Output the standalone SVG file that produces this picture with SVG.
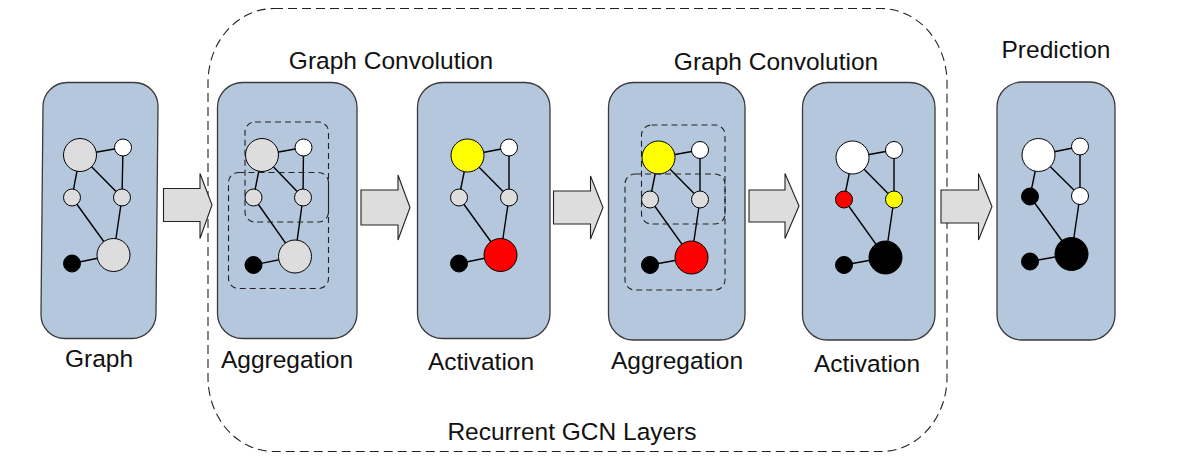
<svg xmlns="http://www.w3.org/2000/svg" width="1192" height="470" viewBox="0 0 1192 470">
<style>
.box{fill:#B4C7DC;stroke:#3a3a3a;stroke-width:1.3}
.e{stroke:#000;stroke-width:1.4}
.n{stroke:#000;stroke-width:1}
.g{fill:#DDDDDD}.w{fill:#FFFFFF}.b{fill:#000}.y{fill:#FFFF00}.r{fill:#FF0000}
.dash{fill:none;stroke:#222;stroke-width:1.1;stroke-dasharray:6 4}
.big{fill:none;stroke:#222;stroke-width:1.1;stroke-dasharray:9 5}
.arr{fill:#DDDDDD;stroke:#222;stroke-width:1.1}
text{font-family:"Liberation Sans",Arial,sans-serif;font-size:24.5px;fill:#111;text-anchor:middle}
</style>
<rect id="recurrent" class="big" x="208" y="8.5" width="739" height="443" rx="66" ry="74"/>
<g id="labels">
<text x="391" y="69">Graph Convolution</text>
<text x="776" y="70">Graph Convolution</text>
<text x="1056" y="58">Prediction</text>
<text x="99" y="367">Graph</text>
<text x="287" y="368">Aggregation</text>
<text x="481" y="370">Activation</text>
<text x="677" y="369">Aggregation</text>
<text x="867" y="372">Activation</text>
<text x="572" y="440">Recurrent GCN Layers</text>
</g>
<g id="graph">
<rect class="box" x="42" y="82.5" width="115" height="256" rx="24" transform="translate(99 210) skewX(-0.55) translate(-99 -210)"/>
<line class="e" x1="80" y1="155" x2="123" y2="147.5"/><line class="e" x1="80" y1="155" x2="72" y2="197.5"/><line class="e" x1="80" y1="155" x2="122" y2="197.5"/><line class="e" x1="123" y1="147.5" x2="122" y2="197.5"/><line class="e" x1="72" y1="197.5" x2="113.5" y2="255"/><line class="e" x1="122" y1="197.5" x2="113.5" y2="255"/><line class="e" x1="72" y1="263.5" x2="113.5" y2="255"/>
<circle class="n g" cx="80" cy="155" r="16.5"/><circle class="n w" cx="123" cy="147.5" r="8.5"/><circle class="n g" cx="72" cy="197.5" r="8.5"/><circle class="n g" cx="122" cy="197.5" r="8.5"/><circle class="n g" cx="113.5" cy="255" r="16.5"/><circle class="n b" cx="72" cy="263.5" r="8.5"/>
</g>
<g id="aggregation1">
<rect class="box" x="217.5" y="82.5" width="139.5" height="256" rx="25"/>
<line class="e" x1="262" y1="155" x2="303.5" y2="147.5"/><line class="e" x1="262" y1="155" x2="253.5" y2="197.5"/><line class="e" x1="262" y1="155" x2="303" y2="197.5"/><line class="e" x1="303.5" y1="147.5" x2="303" y2="197.5"/><line class="e" x1="253.5" y1="197.5" x2="295" y2="256.5"/><line class="e" x1="303" y1="197.5" x2="295" y2="256.5"/><line class="e" x1="253.5" y1="265" x2="295" y2="256.5"/>
<circle class="n g" cx="262" cy="155" r="16.5"/><circle class="n w" cx="303.5" cy="147.5" r="8.5"/><circle class="n g" cx="253.5" cy="197.5" r="8.5"/><circle class="n g" cx="303" cy="197.5" r="8.5"/><circle class="n g" cx="295" cy="256.5" r="16.5"/><circle class="n b" cx="253.5" cy="265" r="8.5"/>
<rect class="dash" x="245" y="122" width="83.5" height="100" rx="10"/>
<rect class="dash" x="228.5" y="172.5" width="100" height="116" rx="10"/>
</g>
<g id="activation1">
<rect class="box" x="417.5" y="82.5" width="132.5" height="256" rx="25"/>
<line class="e" x1="467.5" y1="155.5" x2="509" y2="147.5"/><line class="e" x1="467.5" y1="155.5" x2="459" y2="197.5"/><line class="e" x1="467.5" y1="155.5" x2="509" y2="197.5"/><line class="e" x1="509" y1="147.5" x2="509" y2="197.5"/><line class="e" x1="459" y1="197.5" x2="500.5" y2="255"/><line class="e" x1="509" y1="197.5" x2="500.5" y2="255"/><line class="e" x1="459" y1="263.5" x2="500.5" y2="255"/>
<circle class="n y" cx="467.5" cy="155.5" r="16.5"/><circle class="n w" cx="509" cy="147.5" r="8.5"/><circle class="n g" cx="459" cy="197.5" r="8.5"/><circle class="n g" cx="509" cy="197.5" r="8.5"/><circle class="n r" cx="500.5" cy="255" r="16.5"/><circle class="n b" cx="459" cy="263.5" r="8.5"/>
</g>
<g id="aggregation2">
<rect class="box" x="608.5" y="82.5" width="136.5" height="257.5" rx="25"/>
<line class="e" x1="658.5" y1="157.5" x2="700" y2="150"/><line class="e" x1="658.5" y1="157.5" x2="650" y2="199.5"/><line class="e" x1="658.5" y1="157.5" x2="700" y2="199.5"/><line class="e" x1="700" y1="150" x2="700" y2="199.5"/><line class="e" x1="650" y1="199.5" x2="691.5" y2="257.5"/><line class="e" x1="700" y1="199.5" x2="691.5" y2="257.5"/><line class="e" x1="650" y1="265" x2="691.5" y2="257.5"/>
<circle class="n y" cx="658.5" cy="157.5" r="16.5"/><circle class="n w" cx="700" cy="150" r="8.5"/><circle class="n g" cx="650" cy="199.5" r="8.5"/><circle class="n g" cx="700" cy="199.5" r="8.5"/><circle class="n r" cx="691.5" cy="257.5" r="16.5"/><circle class="n b" cx="650" cy="265" r="8.5"/>
<rect class="dash" x="641.5" y="125" width="83.5" height="99" rx="10"/>
<rect class="dash" x="625" y="174" width="100" height="116" rx="10"/>
</g>
<g id="activation2">
<rect class="box" x="802.5" y="82.5" width="132.5" height="257.5" rx="25"/>
<line class="e" x1="852.5" y1="157.5" x2="894" y2="150"/><line class="e" x1="852.5" y1="157.5" x2="844" y2="199.5"/><line class="e" x1="852.5" y1="157.5" x2="894" y2="199.5"/><line class="e" x1="894" y1="150" x2="894" y2="199.5"/><line class="e" x1="844" y1="199.5" x2="885.5" y2="257.5"/><line class="e" x1="894" y1="199.5" x2="885.5" y2="257.5"/><line class="e" x1="844" y1="265" x2="885.5" y2="257.5"/>
<circle class="n w" cx="852.5" cy="157.5" r="16.5"/><circle class="n w" cx="894" cy="150" r="8.5"/><circle class="n r" cx="844" cy="199.5" r="8.5"/><circle class="n y" cx="894" cy="199.5" r="8.5"/><circle class="n b" cx="885.5" cy="257.5" r="16.5"/><circle class="n b" cx="844" cy="265" r="8.5"/>
</g>
<g id="prediction">
<rect class="box" x="997" y="82" width="118" height="258" rx="25"/>
<line class="e" x1="1038.5" y1="155" x2="1080" y2="146.5"/><line class="e" x1="1038.5" y1="155" x2="1030" y2="196.5"/><line class="e" x1="1038.5" y1="155" x2="1080" y2="196"/><line class="e" x1="1080" y1="146.5" x2="1080" y2="196"/><line class="e" x1="1030" y1="196.5" x2="1071.5" y2="254"/><line class="e" x1="1080" y1="196" x2="1071.5" y2="254"/><line class="e" x1="1030" y1="261.5" x2="1071.5" y2="254"/>
<circle class="n w" cx="1038.5" cy="155" r="16.5"/><circle class="n w" cx="1080" cy="146.5" r="8.5"/><circle class="n b" cx="1030" cy="196.5" r="8.5"/><circle class="n w" cx="1080" cy="196" r="8.5"/><circle class="n b" cx="1071.5" cy="254" r="16.5"/><circle class="n b" cx="1030" cy="261.5" r="8.5"/>
</g>
<g id="connectors">
<polygon class="arr" points="163.5,188.5 200,188.5 200,173.5 212,205 200,238.5 200,221.5 163.5,221.5"/>
<polygon class="arr" points="361,190 398,190 398,175 410,207.5 398,240 398,225 361,225"/>
<polygon class="arr" points="553.5,191 590.5,191 590.5,176 603,207.5 590.5,239 590.5,224 553.5,224"/>
<polygon class="arr" points="749,190 785,190 785,173.5 799,206 785,238.5 785,222 749,222"/>
<polygon class="arr" points="941,190 978.5,190 978.5,173.5 992,206.5 978.5,240 978.5,223 941,223"/>
</g>
</svg>
